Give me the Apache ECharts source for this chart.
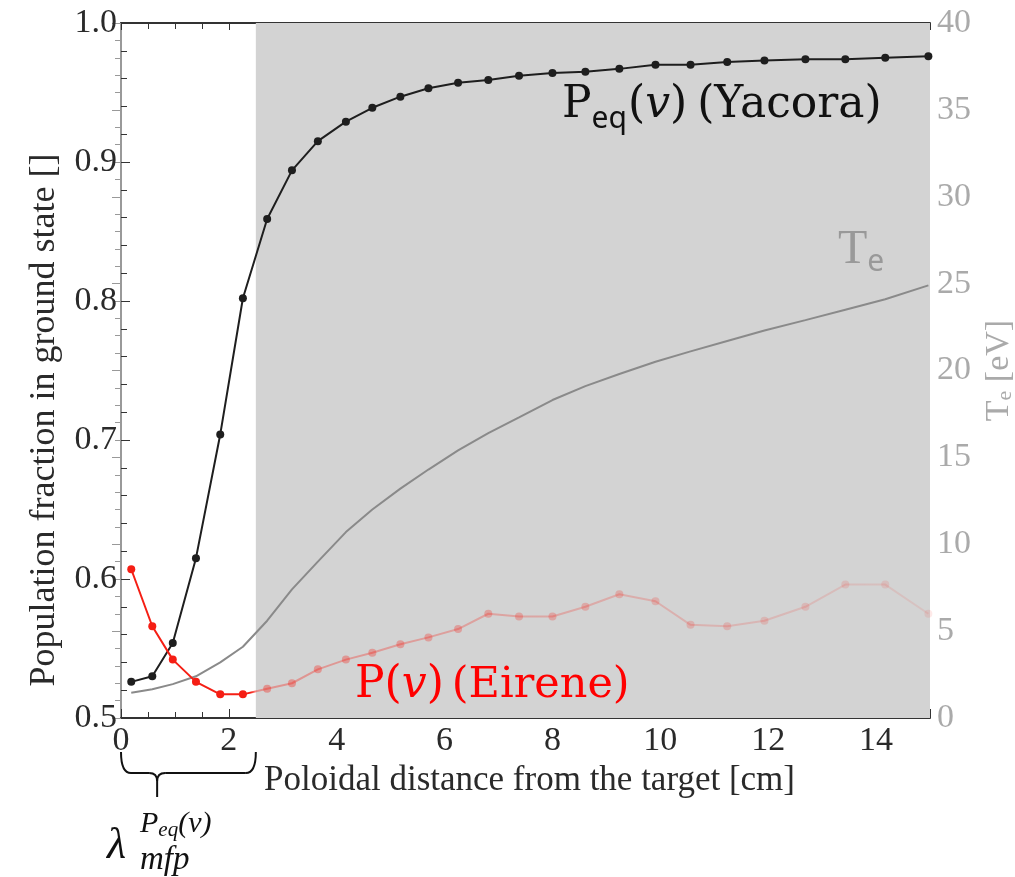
<!DOCTYPE html>
<html>
<head>
    <meta charset="utf-8">
    <title>Population fraction in ground state</title>
    <script src="https://cdn.jsdelivr.net/npm/echarts@6/dist/echarts.min.js"></script>
    <style>
    html, body { margin: 0; padding: 0; background: #fff; }
    #main { width: 1015px; height: 877px; }
    </style>
</head>
<body>
    <div id="main"></div>
    <script>
    // poloidal distance from the target [cm]
    const distance = [0.19, 0.58, 0.96, 1.39, 1.84, 2.26, 2.71, 3.17, 3.65, 4.17, 4.66, 5.18, 5.70, 6.25,
        6.81, 7.38, 8.00, 8.61, 9.24, 9.91, 10.56, 11.24, 11.93, 12.69, 13.43, 14.17, 14.97];
    // P_eq(v), Yacora
    const pEqYacora = [0.526, 0.530, 0.554, 0.615, 0.704, 0.802, 0.859, 0.894, 0.915, 0.929, 0.939, 0.947, 0.953, 0.957,
        0.959, 0.962, 0.964, 0.965, 0.967, 0.970, 0.970, 0.972, 0.973, 0.974, 0.974, 0.975, 0.976];
    // P(v), Eirene
    const pEirene = [0.607, 0.566, 0.542, 0.526, 0.517, 0.517, 0.521, 0.525, 0.535, 0.542, 0.547, 0.553, 0.558, 0.564,
        0.575, 0.573, 0.573, 0.580, 0.589, 0.584, 0.567, 0.566, 0.570, 0.580, 0.596, 0.596, 0.575];
    // electron temperature [eV]
    const teEv = [1.45, 1.65, 1.95, 2.4, 3.2, 4.1, 5.6, 7.4, 9.0, 10.7, 12.0, 13.2, 14.3, 15.4,
        16.4, 17.3, 18.3, 19.1, 19.8, 20.5, 21.1, 21.7, 22.3, 22.9, 23.5, 24.1, 24.9];
    // mean free path, start of the grey region [cm]
    const lambdaMfp = 2.5;
    const braceTip = 0.67;

    const serif = '"DejaVu Serif", serif';
    const axisFont = '"Liberation Serif", serif';
    const sans = '"Noto Sans", sans-serif';

    const myChart = echarts.init(document.getElementById('main'));

    function pairs(ys) {
        return distance.map(function (x, i) { return [x, ys[i]]; });
    }

    // red fades out inside the grey region
    function redAlpha(x) {
        if (x < lambdaMfp) return 1;
        return 0.36 - (x - lambdaMfp) * 0.021;
    }
    const eireneData = distance.map(function (x, i) {
        return {
            value: [x, pEirene[i]],
            itemStyle: { color: 'rgba(245,30,20,' + redAlpha(x).toFixed(3) + ')' }
        };
    });
    const x0 = distance[0], xN = distance[distance.length - 1];
    const cut = (lambdaMfp - x0) / (xN - x0);
    const redGradient = new echarts.graphic.LinearGradient(0, 0, 1, 0, [
        { offset: 0, color: 'rgba(245,30,20,1)' },
        { offset: cut - 0.004, color: 'rgba(245,30,20,1)' },
        { offset: cut + 0.004, color: 'rgba(245,30,20,0.36)' },
        { offset: 1, color: 'rgba(245,30,20,0.09)' }
    ]);

    const option = {
        animation: false,
        grid: { left: 121, right: 85, top: 23, bottom: 159, outerBoundsMode: 'none', containLabel: false },
        xAxis: [{
            type: 'value',
            min: 0,
            max: 15,
            interval: 2,
            name: 'Poloidal distance from the target [cm]',
            nameLocation: 'middle',
            nameGap: 42,
            nameTextStyle: { fontFamily: axisFont, fontSize: 35, color: '#2a2a2a', padding: [0, 0, 0, 8] },
            axisLine: { lineStyle: { color: '#333', width: 2 } },
            axisTick: { inside: true, length: 9, lineStyle: { color: '#333' } },
            minorTick: { show: true, splitNumber: 4, length: 6, lineStyle: { color: '#333' } },
            axisLabel: { fontFamily: axisFont, fontSize: 34, color: '#2a2a2a', margin: 6, showMaxLabel: false },
            splitLine: { show: false }
        }, {
            type: 'value',
            position: 'top',
            min: 0,
            max: 15,
            interval: 2,
            axisLine: { lineStyle: { color: '#333', width: 2 } },
            axisTick: { inside: true, length: 7, lineStyle: { color: '#333' } },
            minorTick: { show: true, splitNumber: 4, length: 6, lineStyle: { color: '#333' } },
            axisLabel: { show: false },
            splitLine: { show: false }
        }],
        yAxis: [{
            type: 'value',
            min: 0.5,
            max: 1.0,
            interval: 0.1,
            axisLine: { show: true, lineStyle: { color: '#333', width: 2 } },
            axisTick: { show: true, inside: true, length: 9, lineStyle: { color: '#333' } },
            minorTick: { show: true, splitNumber: 5, length: 6, lineStyle: { color: '#333' } },
            axisLabel: {
                fontFamily: axisFont, fontSize: 34, color: '#2a2a2a', margin: 4,
                formatter: function (v) { return v.toFixed(1); }
            },
            splitLine: { show: false }
        }, {
            type: 'value',
            position: 'right',
            min: 0,
            max: 40,
            interval: 5,
            name: '{t|T}{s|e}{t| [eV]}',
            nameLocation: 'middle',
            nameRotate: 90,
            nameGap: 34,
            nameTextStyle: {
                color: '#aaa',
                rich: {
                    t: { fontFamily: axisFont, fontSize: 34, color: '#aaa' },
                    s: { fontFamily: axisFont, fontSize: 22, color: '#aaa', verticalAlign: 'bottom', padding: [12, 0, 0, 0] }
                }
            },
            axisLine: { show: true, lineStyle: { color: '#999', width: 2 } },
            axisTick: { show: true, inside: true, length: 9, lineStyle: { color: '#999' } },
            minorTick: { show: true, splitNumber: 5, length: 6, lineStyle: { color: '#999' } },
            axisLabel: { fontFamily: axisFont, fontSize: 34, color: '#aaa', margin: 7 },
            splitLine: { show: false }
        }],
        series: [{
            name: 'shade',
            type: 'line',
            data: [],
            z: 1,
            markArea: {
                silent: true,
                itemStyle: { color: '#d3d3d3' },
                data: [[{ xAxis: lambdaMfp }, { xAxis: 15 }]]
            }
        }, {
            name: 'Te',
            type: 'line',
            yAxisIndex: 1,
            z: 3,
            smooth: false,
            showSymbol: false,
            lineStyle: { color: '#8a8a8a', width: 2 },
            data: pairs(teEv)
        }, {
            name: 'Peq Yacora',
            type: 'line',
            z: 4,
            symbol: 'circle',
            symbolSize: 8,
            itemStyle: { color: '#1e1e1e' },
            lineStyle: { color: '#1e1e1e', width: 2 },
            data: pairs(pEqYacora)
        }, {
            name: 'P Eirene',
            type: 'line',
            z: 4,
            symbol: 'circle',
            symbolSize: 8,
            lineStyle: { color: redGradient, width: 2 },
            data: eireneData
        }]
    };
    myChart.setOption(option);

    // text pieces laid out one after another
    const measureCtx = document.createElement('canvas').getContext('2d');
    function run(x, y, color, parts) {
        const out = [];
        parts.forEach(function (p) {
            const font = (p.italic ? 'italic ' : '') + p.size + 'px ' + (p.family || serif);
            measureCtx.font = font;
            out.push({
                type: 'text',
                silent: true,
                z: 10,
                x: x,
                y: y + (p.dy || 0),
                style: {
                    text: p.text, font: font,
                    fill: p.color || color, textVerticalAlign: 'middle', verticalAlign: 'middle'
                }
            });
            x += measureCtx.measureText(p.text).width + (p.gap || 0);
        });
        return out;
    }

    // brace under the x axis, from 0 to the mean free path
    const bx0 = myChart.convertToPixel({ xAxisIndex: 0 }, 0);
    const bx1 = myChart.convertToPixel({ xAxisIndex: 0 }, lambdaMfp);
    const bt = myChart.convertToPixel({ xAxisIndex: 0 }, braceTip);
    const by0 = 752, by1 = 773, by2 = 797, r = 10;
    const braceStyle = { stroke: '#111', lineWidth: 2, fill: null };
    function curve(x1, y1, cx, cy, x2, y2) {
        return { type: 'bezierCurve', silent: true, z: 10, style: braceStyle,
            shape: { x1: x1, y1: y1, cpx1: cx, cpy1: cy, x2: x2, y2: y2 } };
    }
    function seg(x1, y1, x2, y2) {
        return { type: 'line', silent: true, z: 10, style: braceStyle,
            shape: { x1: x1, y1: y1, x2: x2, y2: y2 } };
    }
    const brace = [
        curve(bx0, by0, bx0, by1, bx0 + r, by1),
        seg(bx0 + r, by1, bt - 8, by1),
        curve(bt - 8, by1, bt, by1, bt, by1 + 8),
        seg(bt, by1 + 8, bt, by2),
        curve(bt + 8, by1, bt, by1, bt, by1 + 8),
        seg(bt + 8, by1, bx1 - r, by1),
        curve(bx1 - r, by1, bx1, by1, bx1, by0)
    ];

    // left axis title, sits a bit below the middle of the axis
    const yTitle = {
        type: 'text',
        silent: true,
        x: 45,
        y: 420,
        rotation: Math.PI / 2,
        style: {
            text: 'Population fraction in ground state []',
            font: '36px ' + axisFont,
            fill: '#2a2a2a',
            textAlign: 'center', align: 'center',
            textVerticalAlign: 'middle', verticalAlign: 'middle'
        }
    };

    let labels = [yTitle];
    labels = labels.concat(run(562, 106, '#111', [
        { text: 'P', size: 44 },
        { text: 'eq', size: 30, dy: 13, family: sans, gap: 1 },
        { text: '(', size: 44 },
        { text: 'v', size: 44, italic: true },
        { text: ')', size: 44, gap: 10 },
        { text: '(Yacora)', size: 44 }
    ]));
    labels = labels.concat(run(355, 686, '#ff0000', [
        { text: 'P(', size: 44 },
        { text: 'v', size: 44, italic: true },
        { text: ')', size: 44, gap: 8 },
        { text: '(Eirene)', size: 43 }
    ]));
    labels = labels.concat(run(838, 250, '#999', [
        { text: 'T', size: 48, family: axisFont },
        { text: 'e', size: 30, dy: 12, family: sans }
    ]));
    labels = labels.concat(run(107, 846, '#111', [
        { text: 'λ', size: 44, italic: true, family: axisFont }
    ]));
    labels = labels.concat(run(140, 824, '#111', [
        { text: 'P', size: 30, italic: true, family: axisFont },
        { text: 'eq', size: 21, italic: true, dy: 6, family: axisFont },
        { text: '(v)', size: 30, italic: true, family: axisFont }
    ]));
    labels = labels.concat(run(140, 860, '#111', [
        { text: 'mfp', size: 33, italic: true, family: axisFont }
    ]));

    myChart.setOption({ graphic: brace.concat(labels) });
    </script>
</body>
</html>
